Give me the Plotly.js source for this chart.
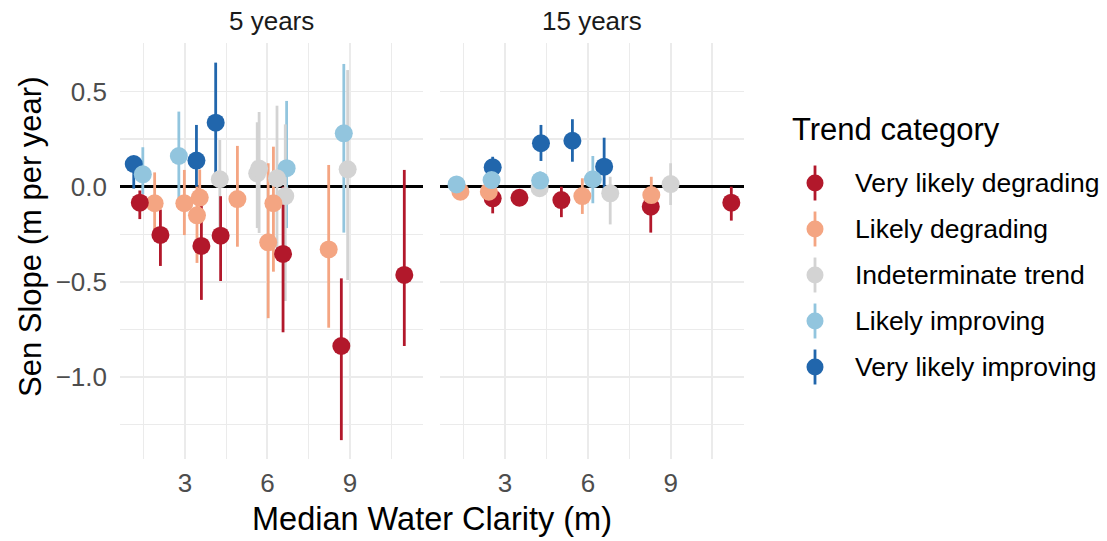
<!DOCTYPE html>
<html><head><meta charset="utf-8">
<script src="https://cdn.plot.ly/plotly-3.0.1.min.js"></script>
<style>html,body{margin:0;padding:0;background:#fff;}</style>
</head><body><div id="chart" style="width:1107px;height:541px;"></div>
<script>
// ---------- data ----------
const categories = ["Very likely degrading","Likely degrading","Indeterminate trend","Likely improving","Very likely improving"];
const catColors = ["#B2182B","#F4A582","#D3D3D3","#92C5DE","#2166AC"];
const panelNames = ["5 years","15 years"];
const yTickVals = [-1, -0.5, 0, 0.5];
const yTickText = ["\u22121.0","\u22120.5","0.0","0.5"];
const xTickVals = [3, 6, 9];
const xTickText = ["3","6","9"];

// 5 years panel (category index into categories)
const cat5     = [4, 3, 0, 1, 0, 3, 1, 4, 1, 1, 0, 4, 2, 0, 1, 2, 2, 1, 1, 2, 3, 2, 0, 1, 3, 2, 0, 0];
const clarity5 = [1.14, 1.47, 1.36, 1.90, 2.11, 2.78, 2.98, 3.42, 3.54, 3.44, 3.60, 4.12, 4.27, 4.30, 4.91, 5.63, 5.70, 6.22, 6.03, 6.35, 6.70, 6.65, 6.57, 8.23, 8.78, 8.92, 8.69, 10.98];
const slope5   = [0.119, 0.065, -0.084, -0.087, -0.253, 0.161, -0.087, 0.137, -0.057, -0.150, -0.311, 0.336, 0.039, -0.257, -0.065, 0.070, 0.095, -0.087, -0.292, 0.044, 0.097, -0.049, -0.353, -0.329, 0.280, 0.091, -0.836, -0.463];
const lower5   = [-0.01, -0.04, -0.17, -0.23, -0.416, -0.06, -0.254, 0.0, -0.19, -0.40, -0.594, 0.07, -0.22, -0.495, -0.315, -0.217, -0.243, -0.446, -0.69, -0.35, -0.217, -0.60, -0.764, -0.74, -0.241, -0.49, -1.33, -0.836];
const upper5   = [0.16, 0.207, -0.02, 0.075, -0.12, 0.394, 0.088, 0.324, 0.09, 0.0, -0.05, 0.651, 0.245, -0.05, 0.214, 0.338, 0.392, 0.21, 0.123, 0.425, 0.45, 0.327, 0.0, 0.114, 0.644, 0.612, -0.481, 0.088];

// 15 years panel
const cat15     = [3, 1, 4, 3, 1, 0, 0, 4, 3, 2, 0, 4, 1, 3, 4, 2, 1, 0, 2, 0];
const clarity15 = [1.24, 1.38, 2.55, 2.51, 2.41, 2.55, 3.52, 4.30, 4.27, 4.25, 5.04, 5.44, 5.80, 6.18, 6.59, 6.81, 8.30, 8.28, 9.00, 11.20];
const slope15   = [0.012, -0.026, 0.102, 0.035, -0.026, -0.061, -0.058, 0.228, 0.032, -0.008, -0.070, 0.241, -0.049, 0.039, 0.105, -0.035, -0.044, -0.105, 0.014, -0.084];
const lower15   = [-0.02, -0.06, 0.05, -0.01, -0.07, -0.14, -0.09, 0.135, -0.01, -0.05, -0.16, 0.131, -0.143, -0.087, -0.044, -0.198, -0.10, -0.241, -0.096, -0.178];
const upper15   = [0.03, 0.0, 0.157, 0.08, 0.02, -0.02, -0.03, 0.324, 0.08, 0.03, 0.0, 0.354, 0.044, 0.161, 0.257, 0.052, 0.052, -0.03, 0.123, 0.0];

// ---------- build ----------
const W = 1107, H = 541;
const px = v => v / W, py = v => 1 - v / H;
const FONT = "Liberation Sans, Arial, Helvetica, sans-serif";

const panels = [
  {cat: cat5, x: clarity5, y: slope5, lo: lower5, hi: upper5, xa: "x", ya: "y", order: [4,3,2,1,0]},
  {cat: cat15, x: clarity15, y: slope15, lo: lower15, hi: upper15, xa: "x2", ya: "y2", order: [4,0,1,2,3]}
];

const traces = [];
const lineW = 2.8, markerSize = 18;
// ranges first (all lines under all points)
panels.forEach(p => {
  p.order.forEach(c => {
    const xs = [], ys = [];
    p.cat.forEach((k, i) => { if (k === c) { xs.push(p.x[i], p.x[i], null); ys.push(p.lo[i], p.hi[i], null); } });
    traces.push({type: "scatter", mode: "lines", x: xs, y: ys, xaxis: p.xa, yaxis: p.ya,
      line: {color: catColors[c], width: lineW}, hoverinfo: "skip", showlegend: false});
  });
});
panels.forEach(p => {
  p.order.forEach(c => {
    const xs = [], ys = [];
    p.cat.forEach((k, i) => { if (k === c) { xs.push(p.x[i]); ys.push(p.y[i]); } });
    traces.push({type: "scatter", mode: "markers", x: xs, y: ys, xaxis: p.xa, yaxis: p.ya, name: categories[c],
      marker: {color: catColors[c], size: markerSize, line: {width: 0}}, showlegend: false});
  });
});
// custom legend keys (point + range)
categories.forEach((name, i) => {
  traces.push({type: "scatter", mode: "lines", x: [0, 0], y: [-i - 0.38, -i + 0.38], xaxis: "x3", yaxis: "y3",
    line: {color: catColors[i], width: lineW}, hoverinfo: "skip", showlegend: false});
  traces.push({type: "scatter", mode: "markers", x: [0], y: [-i], xaxis: "x3", yaxis: "y3",
    marker: {color: catColors[i], size: 17}, hoverinfo: "skip", showlegend: false});
});

const xRange = [0.64, 11.66];
const yRange = [-1.429, 0.754];
const grid = "#EBEBEB";
const tickFont = {family: FONT, size: 26, color: "#4D4D4D"};

function xaxisDef(domain) {
  return {domain: domain, range: xRange, tickmode: "array", tickvals: xTickVals, ticktext: xTickText,
    showgrid: true, gridcolor: grid, gridwidth: 1.8, zeroline: false, showline: false, ticks: "",
    ticklabelstandoff: 6, tickfont: tickFont, fixedrange: true,
    minor: {tickvals: [1.5, 4.5, 7.5, 10.5], showgrid: true, gridcolor: grid, gridwidth: 1.1, ticks: ""}};
}
function yaxisDef(showLabels) {
  return {domain: [py(459), py(43)], range: yRange, tickmode: "array", tickvals: yTickVals, ticktext: yTickText,
    showticklabels: showLabels, showgrid: true, gridcolor: grid, gridwidth: 1.8,
    zeroline: true, zerolinecolor: "#000000", zerolinewidth: 2.4, showline: false, ticks: "",
    ticklabelstandoff: 12, tickfont: tickFont, fixedrange: true,
    minor: {tickvals: [-1.25, -0.75, -0.25, 0.25], showgrid: true, gridcolor: grid, gridwidth: 1.1, ticks: ""}};
}

const annotations = [
  {text: panelNames[0], x: px((120 + 423) / 2), y: py(21), xref: "paper", yref: "paper", showarrow: false,
    xanchor: "center", yanchor: "middle", font: {family: FONT, size: 26, color: "#1A1A1A"}},
  {text: panelNames[1], x: px((440 + 744) / 2), y: py(21), xref: "paper", yref: "paper", showarrow: false,
    xanchor: "center", yanchor: "middle", font: {family: FONT, size: 26, color: "#1A1A1A"}},
  {text: "Median Water Clarity (m)", x: px(432), y: py(519), xref: "paper", yref: "paper", showarrow: false,
    xanchor: "center", yanchor: "middle", font: {family: FONT, size: 32.5, color: "#000000"}},
  {text: "Sen Slope (m per year)", x: px(30), y: py(237), xref: "paper", yref: "paper", showarrow: false,
    textangle: -90, xanchor: "center", yanchor: "middle", font: {family: FONT, size: 31, color: "#000000"}},
  {text: "Trend category", x: px(790), y: py(130), xref: "paper", yref: "paper", showarrow: false,
    xanchor: "left", yanchor: "middle", font: {family: FONT, size: 31, color: "#000000"}}
];
categories.forEach((name, i) => {
  annotations.push({text: name, x: px(853), y: py(183 + 46 * i), xref: "paper", yref: "paper", showarrow: false,
    xanchor: "left", yanchor: "middle", font: {family: FONT, size: 26.5, color: "#000000"}});
});

const layout = {
  width: W, height: H, margin: {l: 0, r: 0, t: 0, b: 0},
  paper_bgcolor: "#ffffff", plot_bgcolor: "rgba(0,0,0,0)",
  showlegend: false, font: {family: FONT},
  xaxis: xaxisDef([px(120), px(423)]),
  xaxis2: xaxisDef([px(440), px(744)]),
  yaxis: yaxisDef(true),
  yaxis2: Object.assign(yaxisDef(false), {anchor: "x2"}),
  xaxis3: {domain: [px(800), px(830)], range: [-1, 1], visible: false, fixedrange: true},
  yaxis3: {domain: [py(390), py(160)], range: [-4.5, 0.5], visible: false, anchor: "x3", fixedrange: true},
  annotations: annotations
};
layout.xaxis.anchor = "y";
layout.xaxis2.anchor = "y2";
layout.xaxis3.anchor = "y3";

Plotly.newPlot("chart", traces, layout, {displayModeBar: false, staticPlot: true});
</script></body></html>
